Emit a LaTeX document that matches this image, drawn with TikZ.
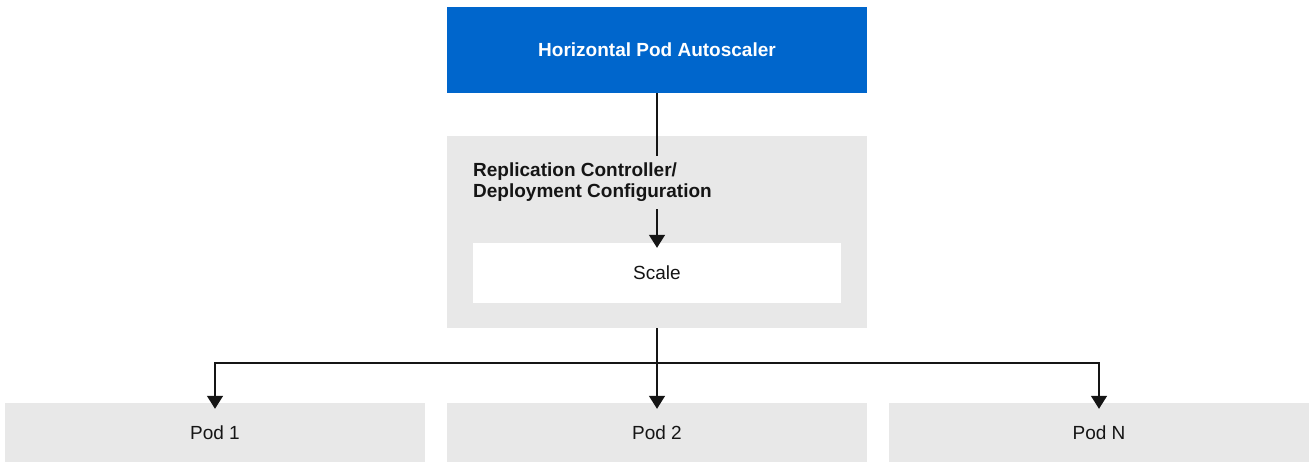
\documentclass[tikz,border=0pt]{standalone}
\usepackage{fontspec}
\setmainfont{Liberation Sans}
\usetikzlibrary{arrows.meta}
\definecolor{hpablue}{HTML}{0066CC}
\definecolor{boxgray}{HTML}{E8E8E8}
\definecolor{ink}{HTML}{151515}
\tikzset{
  box/.style={rectangle, inner sep=0pt, minimum width=420pt, draw=none, font=\fontsize{19}{23}\selectfont, text=ink},
  hpabox/.style={box, fill=hpablue, minimum height=86pt, text=white, font=\fontsize{19}{23}\selectfont\bfseries},
  graybox/.style={box, fill=boxgray},
  scalebox/.style={box, fill=white, minimum width=368pt, minimum height=60pt},
  podbox/.style={graybox, minimum height=59pt},
  conn/.style={draw=ink, line width=1.5pt},
  arr/.style={conn, -{Triangle[width=16pt,length=13pt]}},
}
\begin{document}
\begin{tikzpicture}[x=1pt,y=-1pt]
\useasboundingbox (0,0) rectangle (1313,463);
\node[hpabox] (hpa) at (657,50) {Horizontal Pod Autoscaler};
\node[graybox, minimum height=192pt] (ctrl) at (657,232) {};
\node[anchor=west, align=left, inner sep=0pt, text=ink, font=\fontsize{19}{21}\selectfont\bfseries] (ctrltext) at (473,182) {Replication Controller/\\Deployment Configuration};
\node[scalebox] (scale) at (657,273) {Scale};
\node[podbox] (pod1) at (215,432.5) {Pod 1};
\node[podbox] (pod2) at (657,432.5) {Pod 2};
\node[podbox] (podn) at (1099,432.5) {Pod N};
\coordinate (hpaend) at (657,156);
\coordinate (scalestart) at (657,209);
\coordinate (split) at (657,363);
\draw[conn] (hpa.south) -- (hpaend);
\draw[arr] (scalestart) -- ([yshift=-5pt]scale.north);
\draw[conn] (ctrl.south) -- (split);
\draw[arr] (split) -| ([yshift=-6pt]pod1.north);
\draw[arr] (split) -- ([yshift=-6pt]pod2.north);
\draw[arr] (split) -| ([yshift=-6pt]podn.north);
\end{tikzpicture}
\end{document}
